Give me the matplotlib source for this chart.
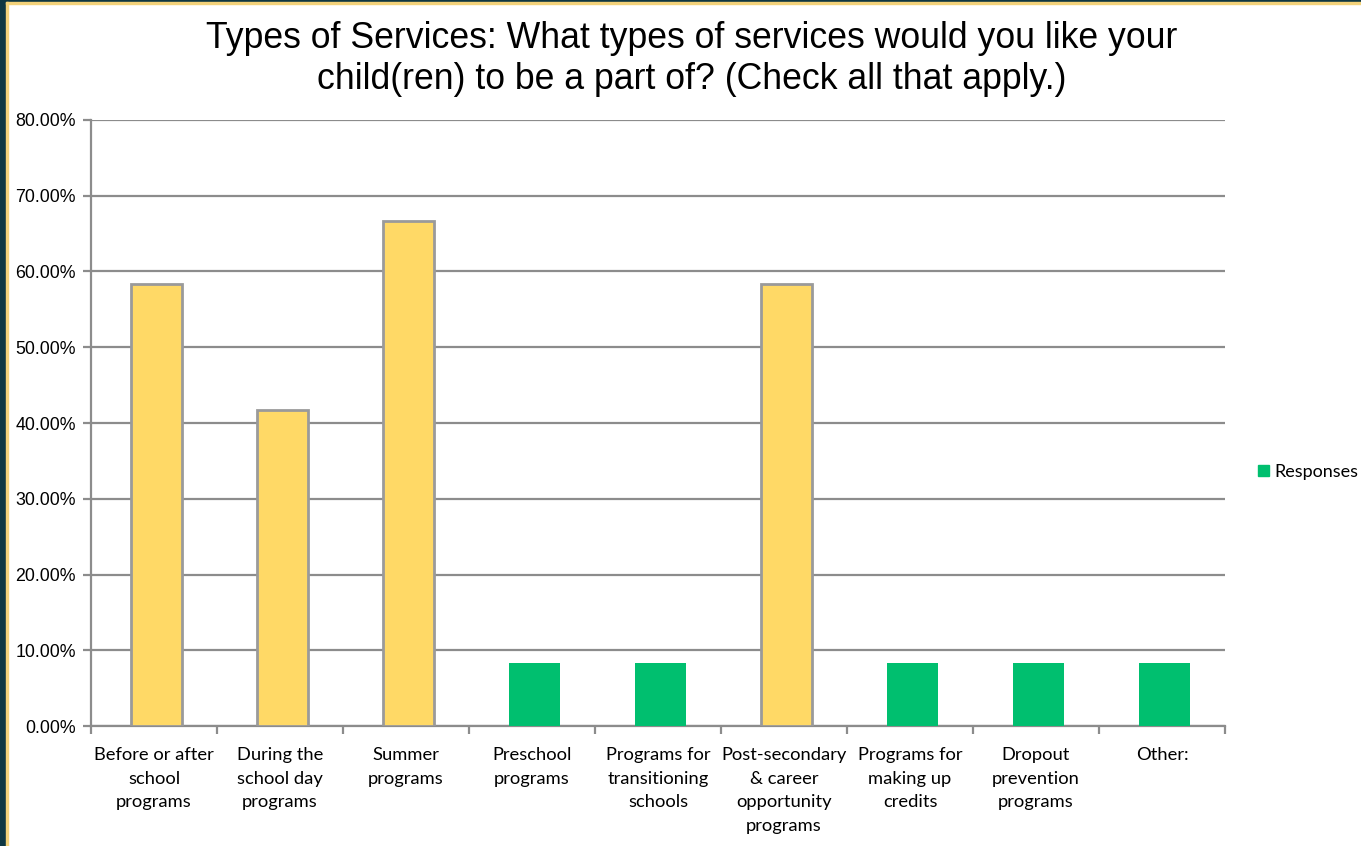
import numpy as np
import matplotlib.pyplot as plt
from matplotlib.patches import Rectangle, Patch

categories = [
    "Before or after\nschool\nprograms",
    "During the\nschool day\nprograms",
    "Summer\nprograms",
    "Preschool\nprograms",
    "Programs for\ntransitioning\nschools",
    "Post-secondary\n& career\nopportunity\nprograms",
    "Programs for\nmaking up\ncredits",
    "Dropout\nprevention\nprograms",
    "Other:",
]
responses = [58.33, 41.67, 66.67, 8.33, 8.33, 58.33, 8.33, 8.33, 8.33]
highlighted = [True, True, True, False, False, True, False, False, False]
yticks = [0, 10, 20, 30, 40, 50, 60, 70, 80]

green = '#00bf6f'
yellow = '#ffd966'
grid_gray = '#8c8c8c'

W, H = 1361, 846
fig = plt.figure(figsize=(W / 100, H / 100), dpi=100)
fig.patch.set_facecolor('white')

# slide border (dark strip + thin yellow line)
fig.patches.append(Rectangle((0, 0), 6 / W, 1, transform=fig.transFigure,
                             color='#0f3742', zorder=0))
fig.patches.append(Rectangle((0, 1 - 2 / H), 1, 2 / H, transform=fig.transFigure,
                             color='#0f3742', zorder=0))
fig.patches.append(Rectangle((6 / W, 0), 2 / W, 1 - 2 / H, transform=fig.transFigure,
                             color='#f3d27a', zorder=0))
fig.patches.append(Rectangle((6 / W, 1 - 4 / H), 1, 2 / H, transform=fig.transFigure,
                             color='#f3d27a', zorder=0))

ax = fig.add_axes([91 / W, 120 / H, (1225 - 91) / W, (726 - 120) / H])

x = np.arange(len(categories))
for xi, val, hl in zip(x, responses, highlighted):
    if hl:
        ax.bar(xi + 0.02, val, width=0.4, color=yellow, edgecolor='#9a9a9a',
               linewidth=2, zorder=3)
    else:
        ax.bar(xi + 0.02, val, width=0.4, color=green, linewidth=0, zorder=3)

ax.set_xlim(-0.5, len(categories) - 0.5)
ax.set_ylim(0, 80)
ax.set_yticks(yticks)
ax.set_yticklabels(['%.2f%%' % v for v in yticks], fontsize=12.8,
                   family='Liberation Sans')
ax.yaxis.grid(True, color=grid_gray, linewidth=1.6, zorder=0)
ax.set_axisbelow(True)

ax.set_xticks(x)
ax.set_xticklabels(categories, fontsize=13.2, family='Lato', linespacing=1.6)
ax.set_xticks(np.arange(-0.5, len(categories)), minor=True)
ax.tick_params(axis='x', which='major', length=0, pad=15)
ax.tick_params(axis='x', which='minor', length=6, width=1.6, color=grid_gray)
ax.tick_params(axis='y', length=6, width=1.6, color=grid_gray, pad=5)

for side in ['top', 'right']:
    ax.spines[side].set_visible(False)
for side in ['left', 'bottom']:
    ax.spines[side].set_color(grid_gray)
    ax.spines[side].set_linewidth(1.6)

fig.text(692 / W, 1 - 59 / H,
         "Types of Services: What types of services would you like your\n"
         "child(ren) to be a part of? (Check all that apply.)",
         ha='center', va='center', fontsize=25.7, family='Liberation Sans',
         linespacing=1.2)

fig.legend(handles=[Patch(color=green, label='Responses')],
           loc='center left', bbox_to_anchor=(1251 / W, 1 - 472 / H),
           frameon=False, prop={'family': 'Lato', 'size': 13},
           handlelength=0.6, handleheight=0.6, handletextpad=0.3,
           borderpad=0.2, borderaxespad=0.2)

fig.savefig('out.png', dpi=100)
